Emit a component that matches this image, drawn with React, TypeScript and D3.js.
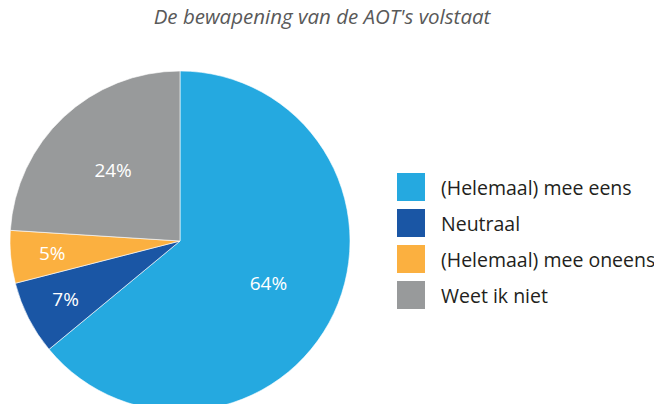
import React, { useEffect, useRef } from 'react'
import * as d3 from 'd3'

const categories = ['(Helemaal) mee eens', 'Neutraal', '(Helemaal) mee oneens', 'Weet ik niet']
const values = [64, 7, 5, 24]
const colors = ['#25a9e0', '#1a56a5', '#fbb040', '#989a9b']
const title = "De bewapening van de AOT's volstaat"

const W = 662
const H = 412
const FONT = "'Open Sans', 'Noto Sans', sans-serif"

export default function App() {
  const svgRef = useRef<SVGSVGElement | null>(null)

  useEffect(() => {
    if (!svgRef.current) return
    const svg = d3.select(svgRef.current)
    svg.selectAll('*').remove()

    svg.append('rect').attr('width', W).attr('height', H).attr('fill', '#ffffff')

    // Title
    svg.append('text')
      .attr('x', 322).attr('y', 24)
      .attr('text-anchor', 'middle')
      .attr('fill', '#595959')
      .attr('font-family', FONT).attr('font-style', 'italic')
      .attr('font-size', 20.5)
      .text(title)

    const cx = 180
    const cy = 241
    const r = 170

    const data = categories.map((c, i) => ({ label: c, value: values[i], color: colors[i] }))
    const pie = d3.pie<typeof data[number]>().sort(null).value(d => d.value)
    const arcs = pie(data)
    const arc = d3.arc<d3.PieArcDatum<typeof data[number]>>().innerRadius(0).outerRadius(r)

    const g = svg.append('g').attr('transform', `translate(${cx},${cy})`)

    g.selectAll('path.slice')
      .data(arcs)
      .join('path').attr('class', 'slice')
      .attr('d', arc)
      .attr('fill', d => d.data.color)
      .attr('stroke', '#ffffff').attr('stroke-width', 0.6)

    // Percent labels — small slices pushed further out
    g.selectAll('text.pct')
      .data(arcs)
      .join('text').attr('class', 'pct')
      .each(function (d) {
        const lr = d.data.value < 10 ? r * 0.755 : r * 0.575
        const c = d3.arc<any>().innerRadius(lr).outerRadius(lr).centroid(d)
        d3.select(this).attr('x', c[0]).attr('y', c[1])
      })
      .attr('text-anchor', 'middle').attr('dominant-baseline', 'central')
      .attr('fill', '#ffffff')
      .attr('font-family', FONT).attr('font-size', 19)
      .text(d => `${d.data.value}%`)

    // Legend
    const lg = svg.append('g').attr('transform', 'translate(397,173)')
    data.forEach((d, i) => {
      lg.append('rect')
        .attr('x', 0).attr('y', i * 36)
        .attr('width', 28).attr('height', 28)
        .attr('fill', d.color)
      lg.append('text')
        .attr('x', 44).attr('y', i * 36 + 14)
        .attr('dominant-baseline', 'central')
        .attr('fill', '#231f20')
        .attr('font-family', FONT).attr('font-size', 19.5)
        .text(d.label)
    })
  }, [])

  return (
    <div style={{ width: W, height: H, overflow: 'hidden', margin: -8 }}>
      <svg ref={svgRef} width={W} height={H} style={{ display: 'block' }} />
    </div>
  )
}
